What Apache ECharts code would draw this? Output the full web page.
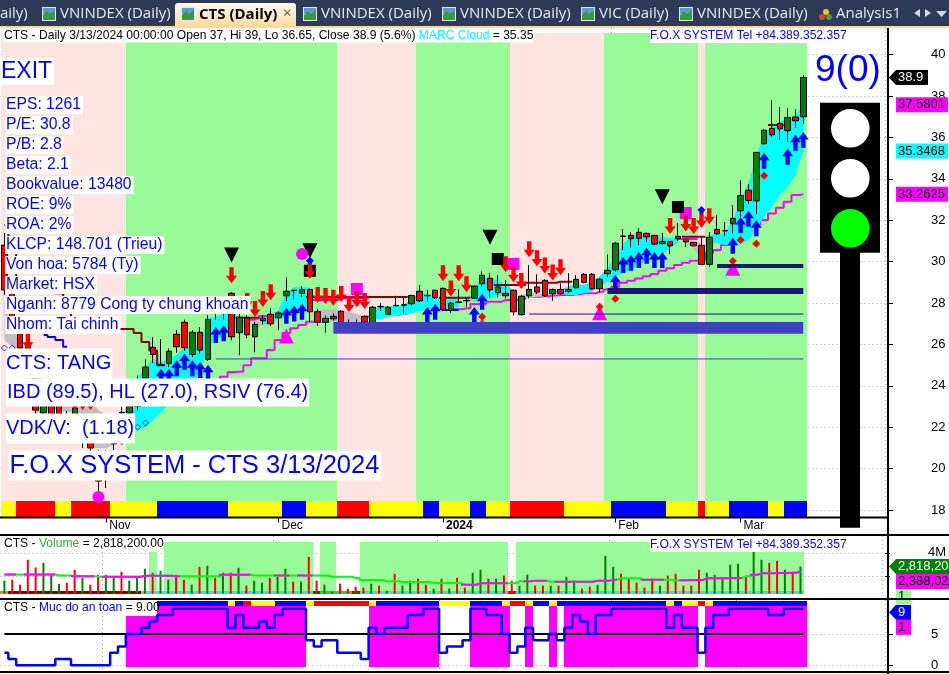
<!DOCTYPE html>
<html>
<head>
<meta charset="utf-8">
<style>
  html, body { margin: 0; padding: 0; background: #fff; }
  #chart { width: 949px; height: 674px; }
</style>
<script src="https://cdn.jsdelivr.net/npm/echarts@6/dist/echarts.min.js"></script>
</head>
<body>
<div id="chart"></div>
<script>
// trading days, Oct 13 2023 .. Mar 13 2024
const dates = [
  '10/13','10/16','10/17','10/18','10/19','10/20','10/23','10/24','10/25','10/26','10/27','10/30','10/31',
  '11/01','11/02','11/03','11/06','11/07','11/08','11/09','11/10','11/13','11/14','11/15','11/16','11/17',
  '11/20','11/21','11/22','11/23','11/24','11/27','11/28','11/29','11/30',
  '12/01','12/04','12/05','12/06','12/07','12/08','12/11','12/12','12/13','12/14','12/15','12/18','12/19',
  '12/20','12/21','12/22','12/25','12/26','12/27','12/28','12/29',
  '01/02','01/03','01/04','01/05','01/08','01/09','01/10','01/11','01/12','01/15','01/16','01/17','01/18',
  '01/19','01/22','01/23','01/24','01/25','01/26','01/29','01/30','01/31',
  '02/01','02/02','02/05','02/06','02/07','02/15','02/16','02/19','02/20','02/21','02/22','02/23','02/26',
  '02/27','02/28','02/29',
  '03/01','03/04','03/05','03/06','03/07','03/08','03/11','03/12','03/13'
];
// empty slots right of the last bar, the traffic light sits there
const blankSlots = ['a','b','c','d','e','f','g','h','i','j'];
const monthLabels = { '11/01': 'Nov', '12/01': 'Dec', '01/02': '2024', '02/01': 'Feb', '03/01': 'Mar' };

// [open, close, low, high]
const candles = [
  [30.8,28.63,28.39,31.38],[28.63,26.94,26.7,28.92],[26.7,25.83,25.49,26.94],[25.97,24.67,24.38,26.21],
  [24.67,22.83,22.6,24.9],[22.69,23.07,22.5,23.5],[23.32,21.87,21.6,23.6],[23.07,22.11,21.9,23.3],
  [22.59,21.87,21.6,22.8],[21.96,22.93,21.7,23.2],[22.11,21.29,21.0,22.4],[21.29,21.0,20.8,21.7],
  [20.66,19.4,18.9,20.9],[20.66,19.69,19.06,20.9],[21.24,21.2,20.9,21.4],[22.7,22.72,22.5,23.0],
  [22.69,23.0,22.4,23.4],[23.0,24.2,22.8,24.5],[24.38,24.91,24.0,25.3],[25.86,25.52,25.1,26.35],
  [25.0,25.04,24.96,26.26],[25.09,25.67,24.9,25.8],[26.49,25.89,25.6,26.7],[27.07,25.84,25.7,27.2],
  [25.52,26.59,25.4,26.7],[26.59,25.73,25.54,26.83],[25.28,27.21,25.2,27.42],[27.5,27.54,27.18,27.8],
  [27.52,27.5,27.2,27.8],[28.47,26.37,26.2,28.53],[26.57,27.31,25.49,27.5],[27.28,26.47,26.3,27.4],
  [26.37,26.97,25.62,27.1],[27.15,27.28,26.97,27.41],[27.46,27.0,26.89,27.75],[27.29,27.52,26.7,27.6],
  [28.35,28.57,28.1,29.24],[28.6,28.62,28.18,28.65],[28.47,28.66,28.3,28.82],[28.66,27.58,27.1,28.7],
  [27.58,27.08,26.9,27.7],[27.07,27.26,26.57,27.4],[27.24,27.36,27.15,27.5],[27.6,26.81,26.7,27.65],
  [26.97,26.81,26.73,27.21],[26.97,26.95,26.73,27.21],[27.36,27.08,27.05,27.4],[26.95,27.8,26.9,27.85],
  [27.82,27.84,27.63,27.99],[27.46,27.8,27.45,27.85],[27.87,27.89,27.85,28.35],[27.9,27.92,27.5,28.3],
  [27.97,28.37,27.9,28.4],[28.57,28.11,28.06,28.87],[28.35,28.37,28.06,28.63],[28.62,28.26,28.2,28.65],
  [28.71,27.68,27.6,28.75],[27.65,27.99,27.53,28.05],[28.03,28.05,28.0,28.66],[28.11,28.13,27.82,28.23],
  [28.24,28.82,28.2,28.85],[28.93,29.34,28.79,29.53],[29.2,28.64,28.3,29.44],[28.5,28.78,28.3,29.35],
  [28.47,28.35,28.23,29.11],[28.62,27.58,27.4,28.65],[27.44,28.33,27.4,28.4],[28.35,28.66,28.23,29.84],
  [28.78,28.53,28.45,29.39],[29.1,28.35,28.3,29.15],[28.45,28.66,28.11,28.7],[28.66,28.47,28.4,28.95],
  [28.57,28.66,28.5,29.44],[28.74,29.15,28.7,29.35],[29.39,29.0,28.95,29.45],[29.39,28.69,28.65,29.45],
  [28.69,29.15,28.5,29.2],[29.42,29.58,29.27,30.35],[29.61,30.89,29.51,30.96],[31.22,31.24,30.56,31.58],
  [31.27,31.11,30.67,31.43],[31.42,31.13,30.8,31.61],[31.37,31.2,30.96,31.4],[31.27,30.85,30.8,31.3],
  [30.87,30.98,30.84,31.38],[30.98,30.77,30.37,31.0],[31.22,31.11,31.0,31.87],[31.08,30.96,30.71,31.1],
  [30.93,30.77,30.74,30.95],[30.79,29.87,29.83,31.2],[29.87,31.18,29.76,31.43],[31.56,31.35,31.3,32.25],
  [31.5,31.49,31.24,31.91],[31.83,32.09,31.38,32.74],[32.46,33.2,32.17,33.94],[33.45,32.96,32.78,33.75],
  [32.94,35.28,32.3,35.3],[35.7,36.35,35.65,36.41],[36.44,36.13,36.04,37.81],[36.68,36.42,35.88,37.47],
  [36.33,36.97,35.78,37.42],[36.99,36.81,36.46,37.36],[37,38.9,36.65,39]
];

const cloudUpper = [
  28.15,27.18,26.46,25.25,24.76,24.28,24.04,24.04,23.8,23.8,23.56,23.32,22.83,22.59,22.35,22.44,
  23.41,24.38,24.86,25.34,25.15,25.34,25.49,25.83,25.83,26.12,27.26,27.34,27.5,27.59,27.31,27.26,
  27.18,27.26,27.38,27.67,28.47,28.76,28.79,28.71,27.66,27.71,27.71,27.66,27.57,27.47,27.33,
  27.67,27.83,27.83,27.86,27.91,28.23,28.47,28.47,28.31,28.23,28.23,28.23,28.18,28.71,29.2,29.2,
  29.12,28.87,28.63,28.39,28.47,28.5,28.4,28.6,28.66,28.79,28.95,28.87,29.03,29.29,29.68,30.24,
  30.88,31.21,31.37,31.29,31.29,31.21,31.13,31.13,31.1,30.97,30.92,31.24,31.37,31.37,32.01,32.98,
  33.78,35.07,36.28,36.52,36.76,36.92,37.08,37.58
];
const cloudLower = [
  26.21,25.88,25.73,23.32,22.69,22.69,22.83,22.83,22.74,22.69,21.38,21.0,21.0,21.0,21.14,21.63,
  21.77,21.87,22.01,22.35,22.74,23.07,23.41,23.7,24.04,24.67,25.97,26.22,26.38,26.7,26.83,26.89,
  26.7,26.94,27.02,27.22,27.34,27.42,27.59,27.67,27.08,27.08,27.08,27.08,27.08,27.08,27.13,
  27.22,27.22,27.31,27.38,27.42,27.5,27.62,27.7,27.75,27.7,27.7,27.8,28.02,28.07,28.12,28.23,
  28.34,28.39,28.39,28.31,28.23,28.31,28.3,28.47,28.44,28.39,28.39,28.47,28.55,28.79,29.03,29.29,
  29.44,29.6,29.84,30.08,30.24,30.4,30.64,30.97,30.97,30.64,30.08,30.89,30.89,30.8,30.8,30.89,
  31.05,31.53,32.17,32.66,33.22,33.62,34.18,35.35
];
// [first bar, last bar, kind]
const cloudRuns = [
  [0,16,'weak'],[16,31,'strong'],[32,33,'weak'],[33,39,'strong'],[40,46,'weak'],[47,58,'strong'],
  [59,60,'weak'],[60,65,'strong'],[66,69,'weak'],[70,86,'strong'],[87,89,'weak'],[90,102,'strong']
];

const zoneRuns = [[0,16,'risk'],[16,43,'safe'],[43,53,'risk'],[53,65,'safe'],[65,77,'risk'],[77,89,'safe'],[89,90,'risk'],[90,103,'safe']];
const stateRuns = [
  [0,2,'y'],[2,7,'r'],[7,9,'y'],[9,14,'r'],[14,20,'y'],[20,29,'b'],[29,36,'y'],[36,39,'b'],[39,43,'y'],[43,47,'r'],
  [47,54,'y'],[54,56,'b'],[56,60,'y'],[60,62,'b'],[62,65,'y'],[65,72,'r'],[72,78,'y'],[78,85,'b'],[85,89,'y'],
  [89,90,'r'],[90,93,'y'],[93,98,'b'],[98,100,'y'],[100,103,'b']
];

// support/resistance blocks: [first bar, top price, bottom price, kind]
const supportBands = [[42,27.08,26.52,'light'],[77,28.73,28.44,'dark'],[91,29.89,29.69,'dark']];
const supportLines = [[27,25.3,'light'],[67,27.47,'dark']];

const _ = null;
const trendLine = [
  _,_,_,_,_,_,_,_,_,_,_,_,_,_,_,_,_,_,_,_,_,_,_,_,_,_,_,24.25,24.44,24.67,24.68,25.0,25.33,25.33,25.73,26.21,26.55,
  26.78,26.94,27.1,27.1,27.18,27.28,27.28,27.3,27.32,27.34,27.36,27.4,27.42,27.45,27.48,27.6,27.7,27.75,27.8,27.7,
  27.7,27.7,27.75,27.95,27.95,28.06,28.06,28.15,28.15,28.2,28.3,28.3,28.33,28.37,28.39,28.39,28.43,28.47,28.47,28.55,
  28.66,28.79,28.98,29.08,29.19,29.3,29.4,29.56,29.68,29.84,29.95,30.05,30.08,30.43,30.56,30.8,30.91,31.13,31.45,
  31.77,32.01,32.33,32.6,32.9,33.22,33.2625
];
const upperTrend = [
  _,_,_,_,_,_,_,_,_,_,_,_,_,_,_,_,_,_,_,_,_,_,_,_,_,_,_,_,_,27.2,27.2,27.2,27.2,27.37,27.37,27.37,_,_,_,
  28.15,28.15,28.15,28.15,28.23,28.23,28.23,28.23,_,_,_,_,_,_,_,_,_,_,_,_,_,_,_,_,_,_,_,_,_,_,_,_,_,_,_,_,_,_,_,_,_,
  _,_,_,_,_,_,31.1,31.1,31.1,_,_,_,_,_,_,_,_,_,_,_,_,_,_
];
const resistance = [
  31.77,30.8,29.02,_,_,_,_,28.48,27.52,26.94,26.75,26.75,26.75,26.75,26.75,26.75,26.75,26.55,26.12,25.71,24.99,
  _,_,_,_,_,_,_,_,_,27.29,27.29,27.29,_,_,_,_,_,_,28.29,28.29,28.29,28.29,28.29,28.29,28.29,28.29,28.29,28.29,28.29,
  28.29,28.29,_,_,_,_,28.26,28.26,28.26,28.26,_,_,_,28.87,28.87,28.87,28.87,28.98,28.98,28.98,28.98,29.03,29.03,_,_,_,_,
  _,_,_,_,_,_,_,_,_,_,31.2,31.2,31.2,_,_,_,_,_,_,_,_,36.6,36.6,_,_,_
];
// [bar, price]
const blueStepLine = [[5,26.46],[6,26.36],[7,26.21],[8,25.89]];
const blueStepLine2 = [[56,27.66],[57,27.66],[58,27.66]];

const sellArrows = [[3,26.13],[9,23.22],[10,23.22],[11,23.22],[13,21.6],[29,29.35],[31,28.1],[32,27.71],[33,28.2],[34,28.52],
  [39,29.56],[40,28.39],[41,28.34],[42,28.26],[43,28.44],[44,27.95],[45,28.18],[46,28.1],[56,29.44],[57,28.71],[58,29.44],[59,28.91],
  [64,29.87],[65,29.39],[66,29.07],[67,30.6],[68,30.16],[69,29.82],[70,29.48],[71,29.73],[85,31.72],[87,31.85],[88,31.72],[89,32.01],[90,32.2]];
const buyArrows = [[20,24.44],[21,24.44],[22,24.85],[23,25.17],[24,24.85],[25,24.77],[26,24.63],[27,26.46],[28,26.54],[36,27.39],[37,27.5],[38,27.58],
  [54,27.42],[55,27.58],[60,27.42],[61,28.06],[78,28.98],[79,29.84],[80,29.95],[81,30.08],[82,30.29],[83,30.08],[84,30.08],
  [93,30.77],[94,31.77],[95,32.07],[96,31.61],[97,34.88],[100,35.07],[101,35.75],[102,35.88]];
const blackTriangles = [[29,30.32],[39,30.53],[62,31.18],[84,33.14]];
const blackSquares = [[39,29.56],[63,30.13],[86,32.64]];
const magentaSquares = [[45,28.68],[65,29.89],[87,32.35]];
const magentaTriangles = [[36,26.41],[61,26.94],[76,27.53],[93,29.68]];
const magentaDots = [[12,18.63],[38,30.37]];
const redDiamonds = [[61,27.34],[76,27.82],[78,28.21],[93,30.03],[94,31.05],[96,30.87],[97,34.15]];
const blueDiamonds = [[39,30.05],[89,32.5]];
const hollowDiamonds = [[0,25.83],[1,25.83],[15,21.3],[17,22.0],[18,22.2]];

// volume in millions of shares, 1 = up day
const volumes = [
  1.6,1.68,1.25,3.4,2.74,3.14,2.11,1.31,1.42,2.54,1.83,1.25,2.11,2.11,1.97,2.37,1.6,1.97,2.63,2.28,2.45,1.68,2.11,1.68,1.25,
  2.8,2.88,1.85,2.28,2.28,2.71,1.17,1.6,1.42,1.85,1.94,2.63,1.51,1.51,3.66,1.6,1.25,0.65,1.34,0.91,1.08,1.0,1.34,1.17,0.74,
  2.2,1.17,1.6,1.77,1.25,0.91,1.77,0.91,1.85,1.0,2.28,2.54,1.77,1.77,2.03,1.6,1.17,2.11,1.17,1.17,1.17,1.17,1.94,1.6,0.91,1.08,
  1.25,3.74,2.8,2.2,1.77,1.42,1.0,1.77,1.17,2.03,2.2,1.17,1.17,2.54,2.28,2.11,1.77,2.97,3.06,1.94,4.09,3.4,3.14,3.31,2.54,2.2,2.818
];
const volumeUp = [
  1,0,0,0,0,1,1,1,0,0,1,0,0,1,1,0,1,1,1,0,1,1,0,0,1,0,1,0,1,0,1,0,1,1,0,1,1,0,1,0,0,1,1,0,0,0,0,1,0,1,
  0,1,1,0,0,1,0,1,0,0,1,1,0,1,0,0,1,1,0,0,1,0,1,1,0,0,1,1,1,0,0,0,0,0,1,0,0,0,0,0,1,1,1,1,1,0,1,1,0,0,1,0,1
];
const volumeAverage = [
  2.14,2.14,2.14,2.14,2.14,2.14,2.14,2.05,2.05,1.97,1.97,1.97,1.94,1.94,1.94,1.94,1.94,1.94,2.03,2.03,2.03,2.03,1.97,1.97,1.97,1.97,1.97,1.97,
  2.11,2.11,2.11,2.11,2.05,2.05,2.05,2.05,2.05,2.05,2.05,2.05,2.05,2.05,1.94,1.94,1.94,1.83,1.65,1.65,1.65,1.54,1.54,1.48,1.48,1.48,1.48,1.4,1.4,1.4,1.4,
  1.25,1.25,1.37,1.37,1.37,1.37,1.37,1.54,1.54,1.6,1.6,1.51,1.51,1.51,1.51,1.51,1.51,1.6,1.6,1.68,1.8,1.8,1.8,1.68,1.68,1.68,1.68,1.63,1.63,1.65,1.65,
  1.8,1.8,1.8,1.83,1.83,1.97,2.11,2.23,2.23,2.25,2.25,2.28,2.388
];
const averageRisingRuns = [[0,1],[3,4],[5,6],[9,11],[13,17],[18,22],[28,31],[35,36],[38,39],[59,64],[67,69],[71,73],[74,75],[76,78],[82,84],[87,90],[91,94],[96,102]];
const volumeZones = [[19,20,'z',4.09],[21,40,'z'],[41,43,'z'],[46,65,'z'],[66,103,'z']];
const volumeStrip = [[0,1,'o'],[1,18,'r'],[18,40,'t'],[40,41,'d'],[41,45,'g'],[45,46,'d'],[46,65,'t'],[65,66,'x'],[66,103,'t']];

// "Muc do an toan" score per bar
const safety = [
  2,1,0,0,0,0,0,1,1,0,0,0,0,0,2,3,5,5,6,7,8,8,9,9,9,9,9,9,9,6,8,6,6,7,6,8,9,9,9,4,3,4,4,2,2,2,1,6,5,6,6,6,8,8,9,9,2,3,3,4,
  9,9,8,8,5,2,3,6,4,4,5,4,6,8,7,5,8,8,9,9,9,9,9,9,9,6,8,6,6,2,6,8,8,9,9,9,9,9,8,8,9,9,9
];
const safetyZones = [[16,20,'m',7.9],[20,39,'m'],[47,56,'m'],[60,65,'m'],[67,68,'m'],[70,71,'m'],[72,89,'m'],[90,103,'m']];
const safetyStrip = [
  [20,29,'b'],[29,30,'y'],[30,31,'b'],[31,32,'r'],[32,35,'y'],[35,39,'b'],[39,40,'y'],[40,47,'r'],[47,48,'y'],[48,56,'b'],[56,60,'y'],[60,64,'b'],
  [64,65,'y'],[65,67,'r'],[67,68,'y'],[68,70,'b'],[70,71,'y'],[71,85,'b'],[85,86,'y'],[86,87,'b'],[87,89,'y'],[89,90,'r'],[90,91,'y'],[91,103,'b']
];

const fundamentals = ['EPS: 1261','P/E: 30.8','P/B: 2.8','Beta: 2.1','Bookvalue: 13480','ROE: 9%','ROA: 2%','KLCP: 148.701 (Trieu)',
  'Von hoa: 5784 (Ty)','Market: HSX','Nganh: 8779 Cong ty chung khoan','Nhom: Tai chinh'];

const FONT = '"Liberation Sans", Arial, sans-serif';
const stateColors = { y: '#ffff00', r: '#ff0000', b: '#0000ff' };
const categories = dates.concat(blankSlots);
const isMonthStart = (i, v) => v in monthLabels;
const pairs = (arr) => arr.map((v, i) => [i, v]);

// paints [first bar, end bar, kind, optional top] runs between two axis values
function runSeries(name, runs, colors, low, high, axisIndex, z) {
  return {
    name, type: 'custom', xAxisIndex: axisIndex, yAxisIndex: axisIndex, z, silent: true, clip: false,
    encode: { x: 0, y: 3 },
    data: runs.map((r) => [r[0], r[1], r[2], r[3] == null ? high : r[3]]),
    renderItem(params, api) {
      const band = api.size([1, 0])[0];
      const a = api.coord([api.value(0), api.value(3)]);
      const b = api.coord([api.value(1) - 1, low]);
      const x0 = Math.round(a[0] - band / 2), x1 = Math.round(b[0] + band / 2);
      return {
        type: 'rect',
        shape: { x: x0, y: Math.round(a[1]), width: x1 - x0, height: Math.round(b[1]) - Math.round(a[1]) },
        style: { fill: colors[runs[params.dataIndex][2]] }
      };
    }
  };
}

function marks(name, data, symbol, size, color, z, extra) {
  return Object.assign({
    name, type: 'scatter', xAxisIndex: 0, yAxisIndex: 0, data, symbol, symbolSize: size, z, silent: true,
    itemStyle: { color, opacity: 1 }, animation: false
  }, extra || {});
}

function line(name, data, color, width, axisIndex, z, step) {
  return {
    name, type: 'line', xAxisIndex: axisIndex, yAxisIndex: axisIndex, data, z, silent: true,
    step: step === undefined ? 'middle' : step, symbol: 'none', connectNulls: false,
    lineStyle: { color, width }
  };
}

const UP_ARROW = 'path://M5 0L10 7L7 7L7 15L3 15L3 7L0 7Z';
const DOWN_ARROW = 'path://M3 0L7 0L7 8L10 8L5 15L0 8L3 8Z';
const DOWN_TRIANGLE = 'path://M0 0L10 0L5 10Z';
const dotted = { show: true, lineStyle: { color: '#a8a8a8', type: [1, 3], width: 1 } };

function xAxis(gridIndex, showLabels) {
  return {
    type: 'category', gridIndex, data: categories, boundaryGap: true,
    axisLine: { show: false },
    axisTick: { show: showLabels, alignWithLabel: true, interval: isMonthStart, length: 5, lineStyle: { color: '#000' } },
    splitLine: Object.assign({ interval: isMonthStart }, dotted),
    axisLabel: {
      show: showLabels, interval: isMonthStart, align: 'left', margin: 2, padding: [0, 0, 0, 3],
      formatter: (v) => (monthLabels[v] === '2024' ? '{bold|2024}' : '{plain|' + monthLabels[v] + '}'),
      rich: {
        bold: { fontWeight: 'bold', fontSize: 12, color: '#000', fontFamily: FONT },
        plain: { fontSize: 12, color: '#000', fontFamily: FONT }
      }
    }
  };
}

function yAxis(gridIndex, min, max, ticks, labels, fmt) {
  return {
    type: 'value', gridIndex, position: 'right', offset: 2.5, min, max,
    axisLine: { show: false },
    axisTick: { show: true, length: 5, customValues: ticks, lineStyle: { color: '#000' } },
    splitLine: dotted,
    axisLabel: { customValues: labels, margin: 43, color: '#000', fontSize: 13, fontFamily: FONT, formatter: fmt }
  };
}

const option = {
  animation: false,
  backgroundColor: '#fff',
  textStyle: { fontFamily: FONT },
  grid: [
    { left: 0.5, width: 885, top: 28, height: 489.5 },
    { left: 0.5, width: 885, top: 536, height: 57.7 },
    { left: 0.5, width: 885, top: 600, height: 72 }
  ],
  xAxis: [xAxis(0, true), xAxis(1, false), xAxis(2, false)],
  yAxis: [
    yAxis(0, 17.64, 41.29, [18,20,22,24,26,28,30,32,34,36,38,40], [18,20,22,24,26,28,30,32,34,36,38,40], (v) => String(v)),
    yAxis(1, 0.47, 5.46, [2,4], [4], (v) => v + 'M'),
    yAxis(2, -1.07, 10.41, [0,5], [0,5], (v) => String(v))
  ],
  series: [
    runSeries('zones', zoneRuns, { risk: '#ffe4e1', safe: '#98fb98' }, 18.43, 41.05, 0, 1),
    runSeries('state', stateRuns, stateColors, 17.67, 18.43, 0, 2),
    line('trend', trendLine, '#ff00ff', 2, 0, 3),
    line('upperTrend', upperTrend, '#ff00ff', 2, 0, 3),
    {
      name: 'cloud', type: 'custom', xAxisIndex: 0, yAxisIndex: 0, z: 4, silent: true,
      encode: { x: 0, y: 1 },
      data: cloudRuns.map((r) => [r[0], r[1], r[2]]),
      renderItem(params, api) {
        const run = cloudRuns[params.dataIndex];
        const points = [];
        for (let i = run[0]; i <= run[1]; i++) points.push(api.coord([i, cloudUpper[i]]));
        for (let i = run[1]; i >= run[0]; i--) points.push(api.coord([i, cloudLower[i]]));
        return { type: 'polygon', shape: { points }, style: { fill: run[2] === 'strong' ? '#00ffff' : '#c0c0c0' } };
      }
    },
    line('resistance', resistance, '#8b0000', 2, 0, 5),
    line('blueStep', blueStepLine, '#0000ff', 2, 0, 5),
    line('blueStep2', blueStepLine2, '#0000ff', 2, 0, 5),
    {
      name: 'CTS', type: 'candlestick', xAxisIndex: 0, yAxisIndex: 0, data: candles, barWidth: 6, z: 6, silent: true,
      itemStyle: { color: '#008000', color0: '#ff0000', borderColor: '#000', borderColor0: '#000', borderWidth: 1 }
    },
    marks('magentaTriangles', magentaTriangles, 'triangle', [15, 15], '#ff00ff', 7),
    marks('magentaSquares', magentaSquares, 'rect', 12, '#ff00ff', 7),
    marks('blackSquares', blackSquares, 'rect', 12, '#000', 8),
    marks('blackTriangles', blackTriangles, DOWN_TRIANGLE, [15, 15], '#000', 8),
    marks('magentaDots', magentaDots, 'circle', 12, '#ff00ff', 8),
    marks('sell', sellArrows, DOWN_ARROW, [11, 16], '#ff0000', 9),
    marks('buy', buyArrows, UP_ARROW, [11, 16], '#0000ff', 9),
    marks('redDiamonds', redDiamonds, 'diamond', 8, '#ff0000', 9),
    marks('blueDiamonds', blueDiamonds, 'diamond', 8, '#0000ff', 9),
    marks('hollow', hollowDiamonds, 'diamond', 6, 'transparent', 9, { itemStyle: { color: 'transparent', borderColor: '#0000ff', borderWidth: 1 } }),
    {
      name: 'bands', type: 'custom', xAxisIndex: 0, yAxisIndex: 0, z: 10, silent: true,
      encode: { x: 0, y: 1 },
      data: supportBands.map((b) => [b[0], b[1], b[2]]),
      renderItem(params, api) {
        const b = supportBands[params.dataIndex];
        const a = api.coord([b[0], b[1]]);
        const c = api.coord([dates.length - 1, b[2]]);
        return {
          type: 'rect', shape: { x: a[0], y: a[1], width: c[0] - a[0], height: c[1] - a[1] },
          style: { fill: b[3] === 'light' ? '#4040c0' : '#191970' }
        };
      }
    },
    {
      name: 'levels', type: 'custom', xAxisIndex: 0, yAxisIndex: 0, z: 10, silent: true,
      encode: { x: 0, y: 1 },
      data: supportLines.map((l) => [l[0], l[1]]),
      renderItem(params, api) {
        const l = supportLines[params.dataIndex];
        const a = api.coord([l[0], l[1]]);
        const c = api.coord([dates.length - 1, l[1]]);
        return {
          type: 'line', shape: { x1: a[0], y1: a[1], x2: c[0], y2: c[1] },
          style: { stroke: l[2] === 'light' ? '#4040c0' : '#191970', lineWidth: 1 }
        };
      }
    },

    runSeries('volumeZones', volumeZones, { z: '#98fb98' }, 0.47, 4.94, 1, 1),
    runSeries('volumeStrip', volumeStrip, { o: '#ff7f27', r: '#8b0000', t: '#40e0d0', d: '#006400', g: '#32cd32', x: '#ff0000' }, 0.47, 0.695, 1, 2),
    {
      name: 'Volume', type: 'bar', xAxisIndex: 1, yAxisIndex: 1, barWidth: 2, z: 3, silent: true,
      data: volumes.map((v, i) => ({ value: v, itemStyle: { color: volumeUp[i] ? '#008000' : '#ff0000' } }))
    },
    line('average', volumeAverage, '#00ff00', 2, 1, 4),
    line('averageRising', volumeAverage.map((v, i) => (averageRisingRuns.some((r) => i >= r[0] && i <= r[1]) ? v : null)), '#ff00ff', 2, 1, 5),

    runSeries('safetyZones', safetyZones, { m: '#ff00ff' }, -0.22, 9.46, 2, 1),
    runSeries('safetyStrip', safetyStrip, stateColors, 9.46, 10.25, 2, 2),
    line('middle', safety.map(() => 5), '#000', 2, 2, 3, false),
    line('Muc do an toan', pairs(safety), '#0000ff', 2.5, 2, 4)
  ],
  graphic: { elements: [] }
};

const chart = echarts.init(document.getElementById('chart'), null, { renderer: 'canvas' });
chart.setOption(option);

const Z = 50;
function text(x, y, str, font, fill, bg, pad, align) {
  return {
    type: 'text', z: Z + 2, silent: true, x, y,
    style: { text: str, font, fill, backgroundColor: bg, padding: pad, align: align || 'left', verticalAlign: 'middle' }
  };
}
function rect(x, y, w, h, fill, zUp) {
  return { type: 'rect', z: Z + (zUp || 0), silent: true, shape: { x, y, width: w, height: h }, style: { fill } };
}
function seg(x1, y1, x2, y2, w, zUp) {
  return { type: 'line', z: Z + (zUp || 0), silent: true, shape: { x1, y1, x2, y2 }, style: { stroke: '#000', lineWidth: w } };
}
function tag(y, bg, fg, str, pointer, w) {
  const h = 15, out = [];
  if (pointer) {
    out.push({ type: 'polygon', z: Z + 3, silent: true,
      shape: { points: [[889, y], [896, y - h / 2], [896, y + h / 2]] }, style: { fill: bg } });
  }
  out.push(rect(896, y - h / 2, w, h, bg, 3));
  const t = text(898, y, str, '13px ' + FONT, fg);
  t.z = Z + 4;
  out.push(t);
  return out;
}
function tabIcon(x) {
  return [
    rect(x, 7, 14, 14, '#dfe9f5', 1),
    rect(x + 1, 8, 12, 6, '#5a9bd5', 1),
    { type: 'polygon', z: Z + 1, silent: true, shape: { points: [[x + 1, 20], [x + 1, 15], [x + 5, 11], [x + 8, 14], [x + 13, 10], [x + 13, 20]] }, style: { fill: '#3a9a3a' } }
  ];
}

const tabFont = '15px "Open Sans", sans-serif';
const tabs = [[-11, 'Daily)'], [60, 'VNINDEX (Daily)'], [321, 'VNINDEX (Daily)'], [460, 'VNINDEX (Daily)'], [599, 'VIC (Daily)'], [697, 'VNINDEX (Daily)'], [836, 'Analysis1']];

const px = (axis, v) => chart.convertToPixel({ yAxisIndex: axis }, v);

let elements = [
  rect(0, 0, 949, 26, '#2d3b58'),
  rect(0, 26, 949, 2, '#fdd998'),
  {
    type: 'rect', z: Z, silent: true, shape: { x: 175, y: 3, width: 121, height: 24, r: [3, 3, 0, 0] },
    style: { fill: new echarts.graphic.LinearGradient(0, 0, 0, 1, [{ offset: 0, color: '#fffaf0' }, { offset: 1, color: '#fdd998' }]) }
  },
  text(199, 15, 'CTS (Daily)', 'bold 15px "Open Sans", sans-serif', '#000'),
  text(283, 14, '×', '15px "Open Sans", sans-serif', '#555'),
  // scroll arrows at the end of the tab strip
  { type: 'polygon', z: Z + 1, silent: true, shape: { points: [[920, 9], [920, 17], [914, 13]] }, style: { fill: '#d5dbe5' } },
  { type: 'polygon', z: Z + 1, silent: true, shape: { points: [[925, 9], [925, 17], [931, 13]] }, style: { fill: '#d5dbe5' } },
  { type: 'polygon', z: Z + 1, silent: true, shape: { points: [[936, 11], [947, 11], [941.5, 17]] }, style: { fill: '#d5dbe5' } },

  // pane frames
  seg(0, 517.5, 888, 517.5, 2, 1),
  seg(0, 535, 949, 535, 2, 1),
  seg(0, 599, 949, 599, 2, 5),
  seg(0, 672, 949, 672, 2, 1),
  seg(888, 28, 888, 674, 2, 1),

  // header lines
  {
    type: 'text', z: Z + 2, silent: true, x: 4, y: 35.5,
    style: {
      text: '{k|CTS - Daily 3/13/2024 00:00:00 Open 37, Hi 39, Lo 36.65, Close 38.9 (5.6%) }{c|MARC Cloud}{k| = 35.35}',
      verticalAlign: 'middle', backgroundColor: '#fff', padding: [1, 0, 1, 0],
      rich: { k: { font: '12.1px ' + FONT, fill: '#000' }, c: { font: '12.1px ' + FONT, fill: '#00ffff' } }
    }
  },
  text(650, 35.5, 'F.O.X SYSTEM Tel +84.389.352.357', '12.1px ' + FONT, '#0000ff', '#fff', [2, 0, 1, 0]),
  {
    type: 'text', z: Z + 2, silent: true, x: 4, y: 544,
    style: {
      text: '{k|CTS - }{c|Volume}{k| = 2,818,200.00}', verticalAlign: 'middle',
      rich: { k: { font: '12.1px ' + FONT, fill: '#000' }, c: { font: '12.1px ' + FONT, fill: '#3f9f3f' } }
    }
  },
  text(650, 544.5, 'F.O.X SYSTEM Tel +84.389.352.357', '12.1px ' + FONT, '#0000ff', '#fff', [2, 0, 1, 0]),
  {
    type: 'text', z: Z + 2, silent: true, x: 4, y: 608,
    style: {
      text: '{k|CTS - }{c|Muc do an toan}{k| = 9.00}', verticalAlign: 'middle',
      rich: { k: { font: '12.1px ' + FONT, fill: '#000' }, c: { font: '12.1px ' + FONT, fill: '#0000ff' } }
    }
  },

  // left side fundamentals
  text(1, 71.5, 'EXIT', '23px ' + FONT, '#0000ff', '#fff', [2, 2, 2, 0]),
  text(8.5, 465.5, 'F.O.X SYSTEM - CTS 3/13/2024', '25.5px ' + FONT, '#0000ff', '#fff', [2, 2, 2, 1]),
  text(6, 363.5, 'CTS: TANG', '20px ' + FONT, '#0000ff', '#fff', [5, 1, 5, 0]),
  text(6, 392.5, 'IBD (89.5), HL (27.0), RSIV (76.4)', '20px ' + FONT, '#0000ff', '#fff', [4, 1, 4, 1]),
  text(6, 428.5, 'VDK/V:  (1.18)', '20px ' + FONT, '#0000ff', '#fff', [5, 1, 5, 0]),

  // traffic light
  rect(840, 150, 20, 377.7, '#000', 6),
  rect(820, 102.7, 60, 150, '#000', 6),
  { type: 'circle', z: Z + 7, silent: true, shape: { cx: 850.3, cy: 128.3, r: 19.3 }, style: { fill: '#fff' } },
  { type: 'circle', z: Z + 7, silent: true, shape: { cx: 850.3, cy: 178.3, r: 19.3 }, style: { fill: '#fff' } },
  { type: 'circle', z: Z + 7, silent: true, shape: { cx: 850.3, cy: 228.3, r: 19.3 }, style: { fill: '#00ff00' } },
  text(815, 71, '9(0)', '37px ' + FONT, '#0000ff')
];

tabs.forEach((t) => elements.push(text(t[0], 14, t[1], tabFont, '#e6ebf2')));
[42, 303, 442, 581, 679].forEach((x) => { elements = elements.concat(tabIcon(x)); });
elements = elements.concat(tabIcon(181));
elements.push(
  { type: 'circle', z: Z + 1, silent: true, shape: { cx: 822, cy: 17, r: 3 }, style: { fill: '#e04030' } },
  { type: 'circle', z: Z + 1, silent: true, shape: { cx: 826, cy: 12, r: 3 }, style: { fill: '#f0c030' } },
  { type: 'circle', z: Z + 1, silent: true, shape: { cx: 829, cy: 17, r: 3 }, style: { fill: '#40a040' } }
);
fundamentals.forEach((s, i) => {
  elements.push(text(5, 105 + i * 20, s, '15.7px ' + FONT, '#0000ff', '#fff', [1, 2, 1, 1]));
});

// value tags on the axis follow the scales
const volumeTagY = px(1, 2.8182);
const safetyTagY = px(2, 9) + 3.5;
elements = elements.concat(
  tag(px(0, 38.9), '#000', '#fff', '38.9', true, 32),
  tag(px(0, 37.5801), '#ff00ff', '#000', '37.5801', false, 52),
  tag(px(0, 35.3468), '#00ffff', '#000', '35.3468', false, 52),
  tag(px(0, 33.2625), '#ff00ff', '#000', '33.2625', false, 52),
  tag(volumeTagY, '#008000', '#fff', '2,818,200', true, 60),
  tag(volumeTagY + 15, '#ff00ff', '#000', '2,388,025', false, 60),
  tag(volumeTagY + 30, '#98fb98', '#000', '1', false, 15),
  tag(safetyTagY, '#0000ff', '#fff', '9', true, 15),
  tag(safetyTagY + 15, '#ff00ff', '#000', '1', false, 15)
);

chart.setOption({ graphic: { elements } });
</script>
</body>
</html>
